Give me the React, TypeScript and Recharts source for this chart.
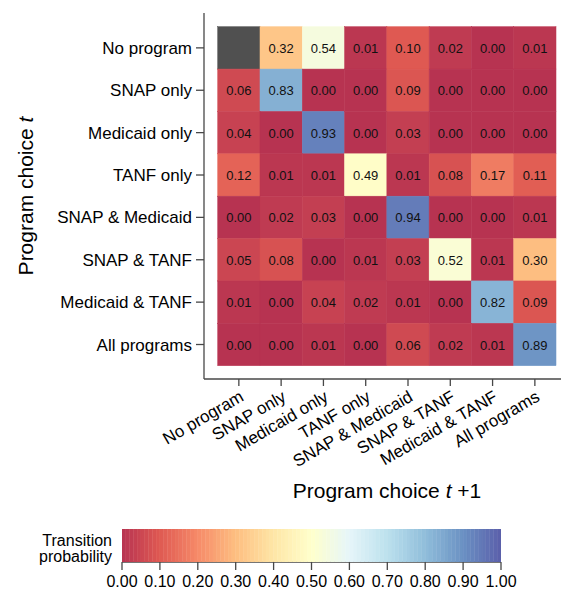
import React from 'react';
import { ScatterChart, Scatter, XAxis, YAxis } from 'recharts';

// ---------- data ----------
const programs = [
  'No program',
  'SNAP only',
  'Medicaid only',
  'TANF only',
  'SNAP & Medicaid',
  'SNAP & TANF',
  'Medicaid & TANF',
  'All programs',
];

// rows: program choice t ; columns: program choice t+1
const fromNoProgram = [null, 0.32, 0.54, 0.01, 0.10, 0.02, 0.00, 0.01];
const fromSnapOnly = [0.06, 0.83, 0.00, 0.00, 0.09, 0.00, 0.00, 0.00];
const fromMedicaidOnly = [0.04, 0.00, 0.93, 0.00, 0.03, 0.00, 0.00, 0.00];
const fromTanfOnly = [0.12, 0.01, 0.01, 0.49, 0.01, 0.08, 0.17, 0.11];
const fromSnapMedicaid = [0.00, 0.02, 0.03, 0.00, 0.94, 0.00, 0.00, 0.01];
const fromSnapTanf = [0.05, 0.08, 0.00, 0.01, 0.03, 0.52, 0.01, 0.30];
const fromMedicaidTanf = [0.01, 0.00, 0.04, 0.02, 0.01, 0.00, 0.82, 0.09];
const fromAllPrograms = [0.00, 0.00, 0.01, 0.00, 0.06, 0.02, 0.01, 0.89];

const matrix: (number | null)[][] = [
  fromNoProgram,
  fromSnapOnly,
  fromMedicaidOnly,
  fromTanfOnly,
  fromSnapMedicaid,
  fromSnapTanf,
  fromMedicaidTanf,
  fromAllPrograms,
];

const colorbarTicks = [0, 0.1, 0.2, 0.3, 0.4, 0.5, 0.6, 0.7, 0.8, 0.9, 1.0];

// ---------- styling ----------
const FONT = '"Liberation Sans", Arial, Helvetica, sans-serif';
const AX = '#474747';
const NA_COLOR = '#505050';
const palette = ['#a50026', '#d73027', '#f46d43', '#fdae61', '#fee090', '#ffffbf', '#e0f3f8', '#abd9e9', '#74add1', '#4575b4', '#313695'];
const ALPHA = 0.8;

function hexToRgb(h: string) {
  return [parseInt(h.slice(1, 3), 16), parseInt(h.slice(3, 5), 16), parseInt(h.slice(5, 7), 16)];
}
function colorAt(v: number) {
  const t = Math.max(0, Math.min(1, v)) * (palette.length - 1);
  const i = Math.min(palette.length - 2, Math.floor(t));
  const f = t - i;
  const a = hexToRgb(palette[i]);
  const b = hexToRgb(palette[i + 1]);
  const c = a.map((av, k) => av + (b[k] - av) * f).map((x) => Math.round(x * ALPHA + 255 * (1 - ALPHA)));
  return `rgb(${c[0]},${c[1]},${c[2]})`;
}

const cells = matrix.flatMap((row, r) => row.map((v, c) => ({ col: c, row: r, v })));

// main chart geometry
const CHART_W = 561;
const CHART_H = 515;
const BOTTOM = 15;
const Y_AXIS_W = 204;
const TOP = 13;
const X_AXIS_H = 121;
const X_DOMAIN: [number, number] = [-0.824, 7.618];
const Y_DOMAIN: [number, number] = [-0.823, 7.814];
const PLOT_W = CHART_W - Y_AXIS_W;
const PLOT_H = CHART_H - TOP - BOTTOM - X_AXIS_H;
const CELL_W = PLOT_W / (X_DOMAIN[1] - X_DOMAIN[0]);
const CELL_H = PLOT_H / (Y_DOMAIN[1] - Y_DOMAIN[0]);

const renderCell = (props: any) => {
  const { cx, cy, payload } = props;
  if (cx == null || cy == null) return <g />;
  const v = payload.v as number | null;
  const fill = v == null ? NA_COLOR : colorAt(v);
  return (
    <g>
      <rect x={cx - CELL_W / 2} y={cy - CELL_H / 2} width={CELL_W} height={CELL_H} fill={fill} stroke={fill} strokeWidth={0.5} />
      {v != null && (
        <text x={cx} y={cy + 5} textAnchor="middle" fontSize={13} fontFamily={FONT} fill="#111">
          {v.toFixed(2)}
        </text>
      )}
    </g>
  );
};

const XTick = (props: any) => {
  const { x, y, payload } = props;
  const tx = x + 6;
  const ty = y + 12;
  return (
    <text x={tx} y={ty} textAnchor="end" transform={`rotate(-30 ${tx} ${ty})`} fontSize={17} fontFamily={FONT} fill="#000">
      {programs[payload.value]}
    </text>
  );
};

// colour bar geometry
const CB_W = 561;
const CB_H = 93;
const CB_LEFT = 122;
const CB_RIGHT = 60;
const CB_TOP = 29;
const CB_AXIS_H = 31;
const CB_PLOT_W = CB_W - CB_LEFT - CB_RIGHT;
const CB_PLOT_H = CB_H - CB_TOP - CB_AXIS_H;

const bandCount = 100;
const bands = Array.from({ length: bandCount }, (_, i) => ({
  x: (i + 0.5) / bandCount,
  y: 0.5,
  color: colorAt((i + 0.5) / bandCount),
}));
const BAND_W = CB_PLOT_W / bandCount;

const renderBand = (props: any) => {
  const { cx, cy, payload } = props;
  if (cx == null || cy == null) return <g />;
  return (
    <rect
      x={cx - BAND_W / 2}
      y={cy - CB_PLOT_H / 2}
      width={BAND_W}
      height={CB_PLOT_H}
      fill={payload.color}
      stroke={payload.color}
      strokeWidth={0.4}
    />
  );
};

export default function App() {
  return (
    <div style={{ position: 'absolute', left: 0, top: 0, width: 561, height: 593, background: '#fff', fontFamily: FONT }}>
      <div style={{ position: 'absolute', left: 0, top: 0 }}>
        <ScatterChart width={CHART_W} height={CHART_H} margin={{ top: TOP, right: 0, bottom: BOTTOM, left: 0 }}>
          <XAxis
            type="number"
            dataKey="col"
            domain={X_DOMAIN}
            allowDataOverflow
            ticks={[0, 1, 2, 3, 4, 5, 6, 7]}
            interval={0}
            height={X_AXIS_H}
            tickSize={7}
            tickMargin={2}
            axisLine={{ stroke: AX, strokeWidth: 1.3 }}
            tickLine={{ stroke: AX, strokeWidth: 1.3 }}
            tick={<XTick />}
          />
          <YAxis
            type="number"
            dataKey="row"
            domain={Y_DOMAIN}
            allowDataOverflow
            reversed
            ticks={[0, 1, 2, 3, 4, 5, 6, 7]}
            interval={0}
            width={Y_AXIS_W}
            tickSize={8}
            tickMargin={4}
            axisLine={{ stroke: AX, strokeWidth: 1.3 }}
            tickLine={{ stroke: AX, strokeWidth: 1.3 }}
            tick={{ fill: '#000', fontSize: 17, fontFamily: FONT }}
            tickFormatter={(v: number) => programs[v]}
          />
          <Scatter data={cells} shape={renderCell} isAnimationActive={false} />
          <text transform="rotate(-90)" x={-196} y={33} textAnchor="middle" fontSize={21} fontFamily={FONT} fill="#000">
            Program choice <tspan fontStyle="italic">t</tspan>
          </text>
          <text x={387} y={498} textAnchor="middle" fontSize={21} fontFamily={FONT} fill="#000">
            Program choice <tspan fontStyle="italic">t</tspan> +1
          </text>
        </ScatterChart>
      </div>
      <div style={{ position: 'absolute', left: 0, top: 500 }}>
        <ScatterChart width={CB_W} height={CB_H} margin={{ top: CB_TOP, right: CB_RIGHT, bottom: 0, left: CB_LEFT }}>
          <XAxis
            type="number"
            dataKey="x"
            domain={[0, 1]}
            allowDataOverflow
            ticks={colorbarTicks}
            interval={0}
            height={CB_AXIS_H}
            tickSize={8}
            tickMargin={6}
            axisLine={{ stroke: AX, strokeWidth: 1.3 }}
            tickLine={{ stroke: AX, strokeWidth: 1.3 }}
            tick={{ fill: '#000', fontSize: 16, fontFamily: FONT }}
            tickFormatter={(v: number) => v.toFixed(2)}
          />
          <YAxis type="number" dataKey="y" domain={[0, 1]} allowDataOverflow hide />
          <Scatter data={bands} shape={renderBand} isAnimationActive={false} />
          <text x={112} y={45.5} textAnchor="end" fontSize={16} fontFamily={FONT} fill="#000">Transition</text>
          <text x={112} y={62} textAnchor="end" fontSize={16} fontFamily={FONT} fill="#000">probability</text>
        </ScatterChart>
      </div>
    </div>
  );
}
